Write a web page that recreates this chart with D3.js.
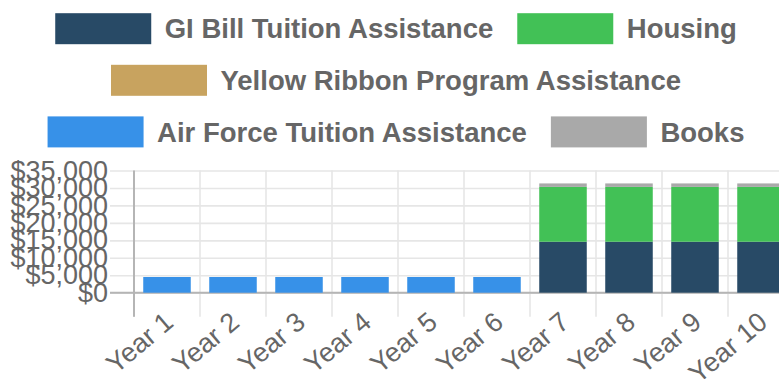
<!DOCTYPE html>
<html>
<head>
<meta charset="utf-8">
<script src="https://cdn.jsdelivr.net/npm/d3@7/dist/d3.min.js"></script>
<style>
  html, body { margin: 0; padding: 0; background: #fff; }
  svg { display: block; }
  text { font-family: "Liberation Sans", Arial, Helvetica, sans-serif; fill: #666; }
</style>
</head>
<body>
<svg id="chart" width="779" height="379"></svg>
<script>
// Education benefits by year (USD)
const years = ["Year 1", "Year 2", "Year 3", "Year 4", "Year 5", "Year 6", "Year 7", "Year 8", "Year 9", "Year 10"];
const giBill      = [0, 0, 0, 0, 0, 0, 14600, 14600, 14600, 14600];
const housing     = [0, 0, 0, 0, 0, 0, 15700, 15700, 15700, 15700];
const yellowRibbon = [0, 0, 0, 0, 0, 0, 0, 0, 0, 0];
const airForceTA  = [4500, 4500, 4500, 4500, 4500, 4500, 0, 0, 0, 0];
const books       = [0, 0, 0, 0, 0, 0, 1000, 1000, 1000, 1000];

const seriesNames  = ["GI Bill Tuition Assistance", "Housing", "Yellow Ribbon Program Assistance", "Air Force Tuition Assistance", "Books"];
const seriesValues = [giBill, housing, yellowRibbon, airForceTA, books];
const seriesColors = ["#284a66", "#42c156", "#c8a35f", "#3791e8", "#a9a9a9"];
const yTicks = [0, 5000, 10000, 15000, 20000, 25000, 30000, 35000];

const svg = d3.select("#chart");

// Plot geometry
const plotLeft = 134, plotRight = 794, plotTop = 170.5, plotBottom = 292.7;
const x = d3.scaleBand().domain(years).range([plotLeft, plotRight]).padding(0);
const y = d3.scaleLinear().domain([0, 35000]).range([plotBottom, plotTop]);
const fmt = v => "$" + d3.format(",")(v);

// Horizontal grid + y tick labels
const yAxis = d3.axisLeft(y).tickValues(yTicks).tickFormat(fmt)
  .tickSizeInner(-(plotRight - 110)).tickSizeOuter(0).tickPadding(2);
const gy = svg.append("g").attr("transform", "translate(110,0)").call(yAxis);
gy.select(".domain").remove();
gy.selectAll(".tick line").attr("stroke", "#e6e6e6").attr("stroke-width", 1.6);
gy.selectAll(".tick text").style("font-size", "27px").attr("fill", "#666");

// Vertical grid lines at category boundaries (extend below axis as tick marks)
const bounds = years.map(d => x(d)).concat([plotRight]);
svg.append("g").selectAll("line").data(bounds).join("line")
  .attr("x1", d => d).attr("x2", d => d)
  .attr("y1", plotTop).attr("y2", plotBottom + 24)
  .attr("stroke", "#e6e6e6").attr("stroke-width", 1.6);

// Axis border lines
svg.append("line").attr("x1", plotLeft).attr("x2", plotLeft).attr("y1", plotTop).attr("y2", plotBottom + 24)
  .attr("stroke", "#b5b5b5").attr("stroke-width", 2);
svg.append("line").attr("x1", 110).attr("x2", plotRight).attr("y1", plotBottom).attr("y2", plotBottom)
  .attr("stroke", "#b5b5b5").attr("stroke-width", 2);

// Stacked bars
const table = years.map((yr, i) => {
  const row = { year: yr };
  seriesNames.forEach((n, k) => row[n] = seriesValues[k][i]);
  return row;
});
const stacked = d3.stack().keys(seriesNames)(table);
const barW = x.bandwidth() * 0.72;
svg.append("g").selectAll("g").data(stacked).join("g")
  .attr("fill", (d, i) => seriesColors[i])
  .selectAll("rect").data(d => d.filter(p => p[1] > p[0])).join("rect")
  .attr("x", d => x(d.data.year) + (x.bandwidth() - barW) / 2)
  .attr("width", barW)
  .attr("y", d => y(d[1]))
  .attr("height", d => y(d[0]) - y(d[1]));

// X axis labels, rotated
const xAxis = d3.axisBottom(x).tickSize(0).tickPadding(0);
const gx = svg.append("g").attr("transform", `translate(0,${plotBottom})`).call(xAxis);
gx.select(".domain").remove();
gx.selectAll(".tick text")
  .style("font-size", "27px").attr("fill", "#666")
  .attr("text-anchor", "end")
  .attr("dy", "0.35em")
  .attr("y", 0)
  .attr("transform", "translate(2,25) rotate(-40)");

// Legend, wrapped into centered rows
const legend = svg.append("g");
const boxW = 96, boxH = 31, gapText = 13.5, gapItem = 24, rowH = 51.6, centerX = 396, maxRow = 760;
const items = seriesNames.map((n, i) => {
  const t = legend.append("text").text(n)
    .style("font-size", "27.5px").style("font-weight", "bold").attr("fill", "#666");
  const w = t.node().getComputedTextLength();
  return { name: n, color: seriesColors[i], node: t, width: boxW + gapText + w };
});
const rows = [];
items.forEach(it => {
  const row = rows[rows.length - 1];
  if (row && row.w + gapItem + it.width <= maxRow) { row.items.push(it); row.w += gapItem + it.width; }
  else rows.push({ items: [it], w: it.width });
});
rows.forEach((row, r) => {
  const cy = 28.7 + r * rowH;
  let cx = centerX - row.w / 2;
  row.items.forEach(it => {
    legend.append("rect").attr("x", cx).attr("y", cy - boxH / 2)
      .attr("width", boxW).attr("height", boxH).attr("fill", it.color);
    it.node.attr("x", cx + boxW + gapText).attr("y", cy).attr("dy", "0.35em");
    cx += it.width + gapItem;
  });
});
</script>
</body>
</html>
